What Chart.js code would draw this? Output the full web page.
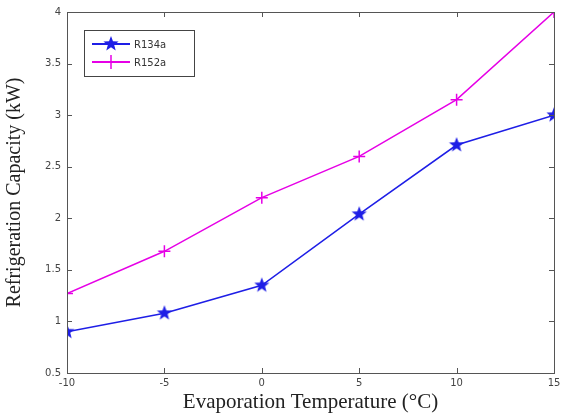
<!DOCTYPE html>
<html>
<head>
<meta charset="utf-8">
<script src="https://cdn.jsdelivr.net/npm/chart.js@4.4.0/dist/chart.umd.min.js"></script>
<style>
  html, body { margin: 0; padding: 0; background: #fff; }
  #wrap { width: 570px; height: 413px; }
</style>
</head>
<body>
<div id="wrap"><canvas id="myChart" width="570" height="413"></canvas></div>
<script>
// datos
var temperaturas = [-10, -5, 0, 5, 10, 15];
var r134a = [0.90, 1.08, 1.35, 2.04, 2.71, 3.00];
var r152a = [1.27, 1.68, 2.20, 2.60, 3.15, 4.00];
var ticksX = [-10, -5, 0, 5, 10, 15];
var ticksY = [0.5, 1, 1.5, 2, 2.5, 3, 3.5, 4];

var azul = 'rgb(30,30,230)';
var magenta = 'rgb(230,0,230)';

// estrella rellena de 5 puntas para R134a
function hacerEstrella(r, color) {
    var c = document.createElement('canvas');
    c.width = c.height = r * 2 + 2;
    var g = c.getContext('2d');
    g.translate(r + 1, r + 1);
    g.beginPath();
    for (var i = 0; i < 10; i++) {
        var rad = (i % 2 == 0) ? r : r * 0.42;
        var a = -Math.PI / 2 + i * Math.PI / 5;
        g.lineTo(rad * Math.cos(a), rad * Math.sin(a));
    }
    g.closePath();
    g.fillStyle = color;
    g.fill();
    return c;
}
var estrella = hacerEstrella(8, azul);

function puntos(xs, ys) {
    var aux = [];
    for (var i = 0; i < xs.length; i++) aux.push({x: xs[i], y: ys[i]});
    return aux;
}

// marco tipo matlab con ticks hacia adentro y leyenda
var marco = {
    id: 'marco',
    afterDraw: function(chart) {
        var ctx = chart.ctx, a = chart.chartArea;
        var sx = chart.scales.x, sy = chart.scales.y;
        ctx.save();
        ctx.strokeStyle = '#555';
        ctx.lineWidth = 1;
        ctx.strokeRect(a.left + 0.5, a.top + 0.5, a.right - a.left, a.bottom - a.top);
        ctx.beginPath();
        ticksX.forEach(function(v) {
            var px = Math.round(sx.getPixelForValue(v)) + 0.5;
            ctx.moveTo(px, a.bottom); ctx.lineTo(px, a.bottom - 5);
            ctx.moveTo(px, a.top); ctx.lineTo(px, a.top + 5);
        });
        ticksY.forEach(function(v) {
            var py = Math.round(sy.getPixelForValue(v)) + 0.5;
            ctx.moveTo(a.left, py); ctx.lineTo(a.left + 5, py);
            ctx.moveTo(a.right, py); ctx.lineTo(a.right - 5, py);
        });
        ctx.stroke();

        // leyenda
        var lx = 84, ly = 30, lw = 110, lh = 46;
        ctx.fillStyle = '#fff';
        ctx.fillRect(lx, ly, lw, lh);
        ctx.strokeStyle = '#444';
        ctx.strokeRect(lx + 0.5, ly + 0.5, lw, lh);
        var filas = [
            {txt: 'R134a', color: azul, y: ly + 14},
            {txt: 'R152a', color: magenta, y: ly + 32}
        ];
        filas.forEach(function(f, i) {
            ctx.strokeStyle = f.color;
            ctx.lineWidth = 2;
            ctx.beginPath();
            ctx.moveTo(lx + 8, f.y); ctx.lineTo(lx + 46, f.y);
            ctx.stroke();
            if (i == 0) {
                ctx.drawImage(estrella, lx + 27 - 9, f.y - 9);
            } else {
                ctx.lineWidth = 1.5;
                ctx.beginPath();
                ctx.moveTo(lx + 27, f.y - 7); ctx.lineTo(lx + 27, f.y + 7);
                ctx.stroke();
            }
            ctx.fillStyle = '#333';
            ctx.font = '10px "DejaVu Sans"';
            ctx.textBaseline = 'middle';
            ctx.fillText(f.txt, lx + 50, f.y + 1);
        });
        ctx.restore();
    }
};

var ctx = document.getElementById('myChart').getContext('2d');
var myChart = new Chart(ctx, {
    type: 'line',
    data: {
        datasets: [{
            label: 'R134a',
            data: puntos(temperaturas, r134a),
            borderColor: azul,
            backgroundColor: azul,
            borderWidth: 1.5,
            pointStyle: estrella,
            tension: 0
        }, {
            label: 'R152a',
            data: puntos(temperaturas, r152a),
            borderColor: magenta,
            backgroundColor: magenta,
            borderWidth: 1.5,
            pointStyle: 'cross',
            pointRadius: 6,
            pointBorderWidth: 1.5,
            tension: 0
        }]
    },
    options: {
        responsive: false,
        animation: false,
        layout: { padding: { top: 10, right: 16, left: 0, bottom: 0 } },
        plugins: { legend: { display: false }, tooltip: { enabled: false } },
        scales: {
            x: {
                type: 'linear',
                min: -10, max: 15,
                afterFit: function(s) { s.height = 40; },
                afterBuildTicks: function(s) { s.ticks = ticksX.map(function(v) { return {value: v}; }); },
                grid: { display: false, drawTicks: false },
                border: { display: false },
                ticks: { padding: 4, color: '#444', font: { family: 'DejaVu Sans', size: 10 },
                    callback: function(v) { return String(v); } },
                title: {
                    display: true,
                    text: 'Evaporation Temperature (\u00B0C)',
                    color: '#222',
                    padding: { top: 0, bottom: 0 },
                    font: { family: 'Liberation Serif', size: 21, lineHeight: 1.0 }
                }
            },
            y: {
                type: 'linear',
                min: 0.5, max: 4,
                afterFit: function(s) { s.width = 67; },
                afterBuildTicks: function(s) { s.ticks = ticksY.map(function(v) { return {value: v}; }); },
                grid: { display: false, drawTicks: false },
                border: { display: false },
                ticks: { padding: 6, color: '#444', font: { family: 'DejaVu Sans', size: 10 },
                    callback: function(v) { return String(v); } },
                title: {
                    display: true,
                    text: 'Refrigeration Capacity (kW)',
                    color: '#222',
                    padding: { top: 5, bottom: 0 },
                    font: { family: 'Liberation Serif', size: 20, lineHeight: 1.0 }
                }
            }
        }
    },
    plugins: [marco]
});
</script>
</body>
</html>
